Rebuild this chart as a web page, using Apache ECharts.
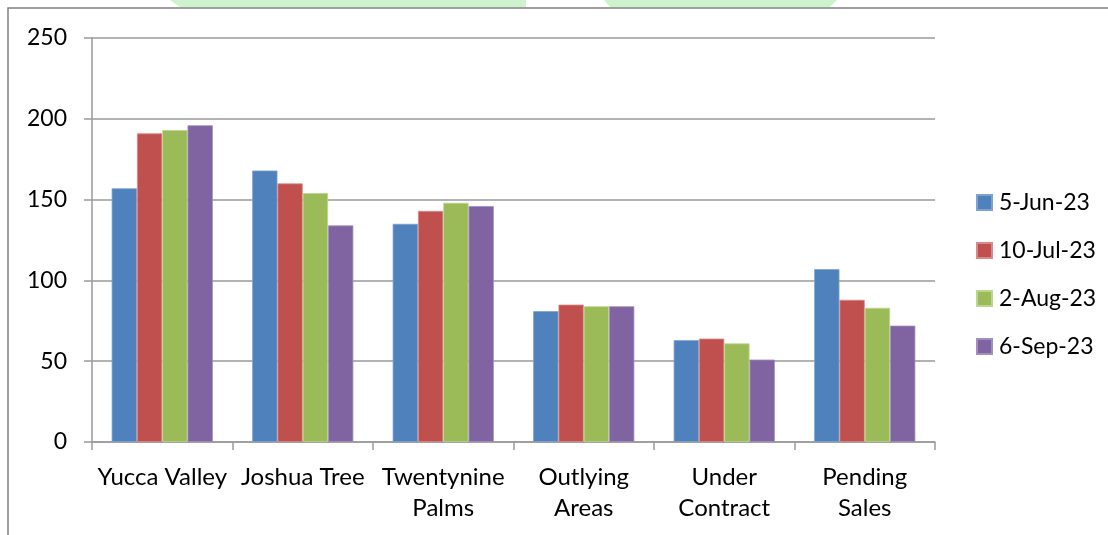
<!DOCTYPE html>
<html>
<head>
<meta charset="utf-8">
<script src="https://cdn.jsdelivr.net/npm/echarts@6/dist/echarts.min.js"></script>
<style>html,body{margin:0;padding:0;background:#fff}#c{width:1108px;height:535px}</style>
</head>
<body>
<div id="c"></div>
<script>
const categories = ['Yucca Valley', 'Joshua Tree', 'Twentynine\nPalms', 'Outlying\nAreas', 'Under\nContract', 'Pending\nSales'];
const seriesNames = ['5-Jun-23', '10-Jul-23', '2-Aug-23', '6-Sep-23'];
const jun5 = [157, 168, 135, 81, 63, 107];
const jul10 = [191, 160, 143, 85, 64, 88];
const aug2 = [193, 154, 148, 84, 61, 83];
const sep6 = [196, 134, 146, 84, 51, 72];
const colors = ['#4F81BD', '#C0504D', '#9BBB59', '#8064A2'];
const borders = ['#7fa3d1', '#d98a88', '#bcd68c', '#a08fbf'];

const values = [jun5, jul10, aug2, sep6];
const font = 'Lato, "Liberation Sans", sans-serif';
const chart = echarts.init(document.getElementById('c'));
chart.setOption({
  animation: false,
  backgroundColor: '#ffffff',
  textStyle: { fontFamily: font },
  grid: { left: 92, right: 173, top: 38, bottom: 93 },
  legend: {
    orient: 'vertical', left: 976, top: 191, padding: 0,
    itemWidth: 15, itemHeight: 15, itemGap: 25,
    icon: 'rect',
    textStyle: { fontSize: 23, color: '#000', fontFamily: font, lineHeight: 23, padding: [0, 0, 0, 2] },
    data: seriesNames
  },
  xAxis: {
    type: 'category', data: categories,
    axisLine: { lineStyle: { color: '#9a9a9a', width: 1.5 } },
    axisTick: { show: true, length: 8, lineStyle: { color: '#9a9a9a', width: 1.5 } },
    axisLabel: { interval: 0, color: '#000', fontSize: 24, lineHeight: 31, margin: 20, fontFamily: font }
  },
  yAxis: {
    type: 'value', min: 0, max: 250, interval: 50,
    axisLine: { show: true, lineStyle: { color: '#9a9a9a', width: 1.5 } },
    axisTick: { show: true, length: 8, lineStyle: { color: '#9a9a9a', width: 1.5 } },
    splitLine: { lineStyle: { color: '#9a9a9a', width: 1.5 } },
    axisLabel: { color: '#000', fontSize: 23, margin: 25, fontFamily: font }
  },
  graphic: [
    { type: 'polyline', shape: { points: [[8, 535], [8, 8], [1108, 8]] }, style: { stroke: '#808080', lineWidth: 1.5, fill: null } },
    { type: 'polygon', shape: { points: [[170, 0], [526, 0], [526, 7], [180, 7]] }, style: { fill: '#cdf2cd' }, z: -1 },
    { type: 'polygon', shape: { points: [[604, 0], [837, 0], [830, 7], [610, 7]] }, style: { fill: '#cdf2cd' }, z: -1 }
  ],
  series: seriesNames.map((n, i) => ({
    name: n, type: 'bar', data: values[i],
    barGap: '0%', barCategoryGap: '28%',
    itemStyle: { color: colors[i], borderColor: borders[i], borderWidth: 0.8 }
  }))
});
</script>
</body>
</html>
